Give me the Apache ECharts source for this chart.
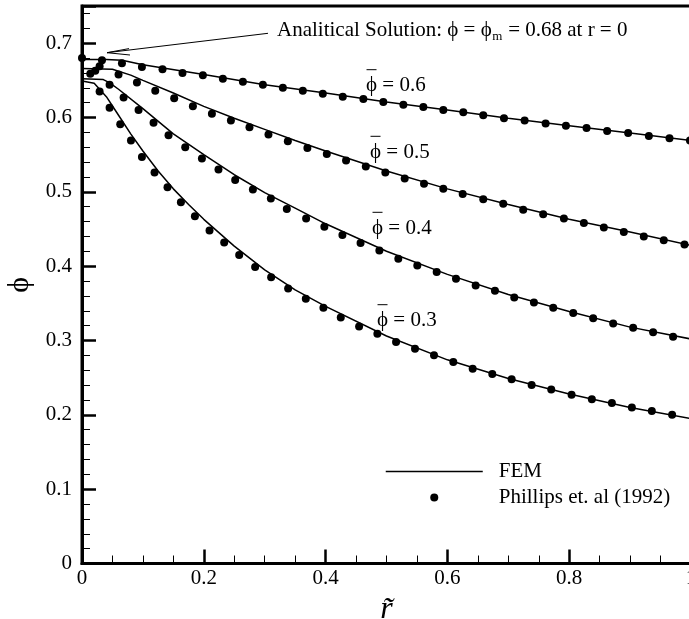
<!DOCTYPE html>
<html><head><meta charset="utf-8">
<script src="https://cdn.jsdelivr.net/npm/echarts@6/dist/echarts.min.js"></script>
<style>html,body{margin:0;padding:0;background:#fff}#c{width:689px;height:619px}</style>
</head><body><div id="c"></div>
<script>
const FONT = '"Liberation Serif", "DejaVu Serif", serif';

// ---- data ----
const xTicks = [0, 0.2, 0.4, 0.6, 0.8, 1];
const yTicks = [0, 0.1, 0.2, 0.3, 0.4, 0.5, 0.6, 0.7];

const fem06_r   = [0, 0.04, 0.066, 0.1, 0.2, 0.3, 0.4, 0.5, 0.6, 0.7, 0.8, 0.9, 1.0];
const fem06_phi = [0.678, 0.678, 0.677, 0.671, 0.658, 0.644, 0.633, 0.621, 0.610, 0.599, 0.589, 0.579, 0.569];

const fem05_r   = [0, 0.05, 0.08, 0.1, 0.15, 0.2, 0.25, 0.3, 0.35, 0.4, 0.5, 0.6, 0.7, 0.8, 0.9, 1.0];
const fem05_phi = [0.666, 0.665, 0.657, 0.650, 0.633, 0.615, 0.599, 0.584, 0.569, 0.555, 0.528, 0.504, 0.483, 0.463, 0.446, 0.428];

const fem04_r   = [0, 0.035, 0.045, 0.06, 0.1, 0.15, 0.2, 0.25, 0.3, 0.35, 0.4, 0.5, 0.6, 0.7, 0.8, 0.9, 1.0];
const fem04_phi = [0.652, 0.651, 0.647, 0.638, 0.612, 0.578, 0.550, 0.523, 0.499, 0.478, 0.457, 0.420, 0.389, 0.362, 0.339, 0.318, 0.302];

const fem03_r   = [0, 0.02, 0.04, 0.06, 0.08, 0.1, 0.125, 0.15, 0.175, 0.2, 0.25, 0.3, 0.35, 0.4, 0.5, 0.6, 0.7, 0.8, 0.9, 1.0];
const fem03_phi = [0.649, 0.646, 0.628, 0.603, 0.578, 0.555, 0.528, 0.504, 0.483, 0.463, 0.427, 0.395, 0.368, 0.346, 0.306, 0.274, 0.249, 0.228, 0.210, 0.195];

const exp06_r   = [0.0136, 0.0218, 0.0289, 0.0328, 0.0656, 0.0984, 0.1322, 0.1650, 0.1985, 0.2313, 0.2642, 0.2970, 0.3298, 0.3626, 0.3954, 0.4282, 0.4620, 0.4948, 0.5277, 0.5605, 0.5933, 0.6261, 0.6589, 0.6929, 0.7268, 0.7613, 0.7946, 0.8285, 0.8623, 0.8968, 0.9308, 0.9647, 0.9983];
const exp06_phi = [0.659, 0.663, 0.669, 0.677, 0.673, 0.668, 0.665, 0.660, 0.657, 0.652, 0.648, 0.644, 0.640, 0.636, 0.632, 0.628, 0.625, 0.621, 0.617, 0.614, 0.610, 0.607, 0.603, 0.599, 0.596, 0.592, 0.589, 0.586, 0.582, 0.579, 0.575, 0.572, 0.569];

const exp05_r   = [0.0600, 0.0902, 0.1203, 0.1514, 0.1821, 0.2133, 0.2445, 0.2750, 0.3062, 0.3380, 0.3701, 0.4020, 0.4336, 0.4660, 0.4981, 0.5299, 0.5616, 0.5933, 0.6251, 0.6589, 0.6917, 0.7245, 0.7573, 0.7913, 0.8241, 0.8569, 0.8897, 0.9225, 0.9553, 0.9893];
const exp05_phi = [0.658, 0.647, 0.636, 0.626, 0.615, 0.605, 0.596, 0.587, 0.577, 0.568, 0.559, 0.551, 0.542, 0.534, 0.526, 0.518, 0.511, 0.504, 0.497, 0.490, 0.484, 0.476, 0.470, 0.464, 0.458, 0.452, 0.446, 0.440, 0.435, 0.429];

const exp04_r   = [0.0453, 0.0683, 0.0929, 0.1175, 0.1421, 0.1695, 0.1969, 0.2241, 0.2515, 0.2806, 0.3101, 0.3363, 0.3680, 0.3980, 0.4276, 0.4574, 0.4883, 0.5194, 0.5506, 0.5824, 0.6141, 0.6464, 0.6781, 0.7098, 0.7421, 0.7738, 0.8066, 0.8394, 0.8722, 0.9050, 0.9378, 0.9706];
const exp04_phi = [0.644, 0.627, 0.610, 0.593, 0.576, 0.560, 0.545, 0.530, 0.516, 0.503, 0.491, 0.477, 0.464, 0.453, 0.442, 0.431, 0.421, 0.410, 0.401, 0.392, 0.383, 0.374, 0.367, 0.358, 0.351, 0.344, 0.337, 0.330, 0.323, 0.317, 0.311, 0.305];

const exp03_r   = [0.0289, 0.0453, 0.0628, 0.0804, 0.0984, 0.1191, 0.1404, 0.1624, 0.1854, 0.2094, 0.2335, 0.2581, 0.2843, 0.3106, 0.3385, 0.3675, 0.3964, 0.4249, 0.4550, 0.4850, 0.5157, 0.5468, 0.5780, 0.6097, 0.6415, 0.6737, 0.7055, 0.7383, 0.7705, 0.8039, 0.8372, 0.8701, 0.9029, 0.9357, 0.9690];
const exp03_phi = [0.635, 0.613, 0.591, 0.569, 0.547, 0.526, 0.506, 0.486, 0.467, 0.448, 0.432, 0.415, 0.399, 0.385, 0.370, 0.356, 0.344, 0.331, 0.319, 0.309, 0.298, 0.289, 0.280, 0.271, 0.262, 0.255, 0.248, 0.240, 0.234, 0.227, 0.221, 0.216, 0.210, 0.205, 0.200];

const analytic_r = [0];
const analytic_phi = [0.68];

const curveLabels = ['0.6', '0.5', '0.4', '0.3'];
const legendNames = ['FEM', 'Phillips et. al (1992)'];

// ---- chart ----
function pairs(xs, ys) { return xs.map((x, i) => [x, ys[i]]); }
const chart = echarts.init(document.getElementById('c'), null, { renderer: 'canvas' });

function femSeries(xs, ys) {
  return { type: 'line', name: legendNames[0], data: pairs(xs, ys), symbol: 'none', showSymbol: false, smooth: false,
    lineStyle: { color: '#000', width: 1.5 }, itemStyle: { color: '#000' }, z: 2, animation: false };
}
function dotSeries(xs, ys, name) {
  return { type: 'scatter', name: name, data: pairs(xs, ys), symbol: 'circle', symbolSize: 8,
    itemStyle: { color: '#000', opacity: 1 }, z: 3, animation: false };
}

const GRID = { left: 82, top: 6, width: 609, height: 557.5 };

chart.setOption({
  animation: false,
  backgroundColor: '#fff',
  grid: Object.assign({ show: true, borderColor: '#000', borderWidth: 3, backgroundColor: 'transparent',
    containLabel: false, outerBoundsMode: 'none' }, GRID),
  legend: {
    data: [
      { name: legendNames[0], itemStyle: { color: 'rgba(0,0,0,0)', borderWidth: 0, opacity: 0 } },
      { name: legendNames[1] }
    ],
    orient: 'vertical', left: 385, top: 461, padding: 0, itemWidth: 97, itemHeight: 8, itemGap: 5,
    selectedMode: false,
    lineStyle: { color: '#000', width: 1.5 },
    textStyle: { fontFamily: FONT, fontSize: 21, color: '#000', padding: [0, 0, 0, 11] }
  },
  xAxis: {
    type: 'value', min: 0, max: 1, interval: 0.2,
    axisLine: { show: true, onZero: false, lineStyle: { color: '#000', width: 3 } },
    axisTick: { show: true, inside: true, length: 14, lineStyle: { color: '#000', width: 2.5 } },
    minorTick: { show: true, splitNumber: 4, length: 8, lineStyle: { color: '#000', width: 1 } },
    splitLine: { show: false },
    axisLabel: { color: '#000', fontFamily: FONT, fontSize: 21, margin: 4,
      formatter: v => (xTicks.indexOf(Math.round(v * 10) / 10) >= 0 ? String(Math.round(v * 10) / 10) : '') },
    name: 'r\u0303', nameLocation: 'middle', nameGap: 22,
    nameTextStyle: { fontFamily: FONT, fontStyle: 'italic', fontSize: 32, color: '#000' }
  },
  yAxis: {
    type: 'value', min: 0, max: 0.75, interval: 0.1,
    axisLine: { show: true, onZero: false, lineStyle: { color: '#000', width: 3 } },
    axisTick: { show: true, inside: true, length: 14, lineStyle: { color: '#000', width: 2.5 } },
    minorTick: { show: true, splitNumber: 5, length: 8, lineStyle: { color: '#000', width: 1 } },
    splitLine: { show: false },
    axisLabel: { color: '#000', fontFamily: FONT, fontSize: 21, margin: 10, showMaxLabel: false,
      formatter: v => { const r = Math.round(v * 10) / 10; return yTicks.indexOf(r) >= 0 && Math.abs(v - r) < 1e-6 ? String(r) : ''; } },
    name: '\u03D5', nameLocation: 'middle', nameGap: 31, nameRotate: 90,
    nameTextStyle: { fontFamily: FONT, fontSize: 30, color: '#000' }
  },
  series: [
    femSeries(fem06_r, fem06_phi),
    femSeries(fem05_r, fem05_phi),
    femSeries(fem04_r, fem04_phi),
    femSeries(fem03_r, fem03_phi),
    dotSeries(exp06_r, exp06_phi, legendNames[1]),
    dotSeries(exp05_r, exp05_phi, legendNames[1]),
    dotSeries(exp04_r, exp04_phi, legendNames[1]),
    dotSeries(exp03_r, exp03_phi, legendNames[1]),
    dotSeries(analytic_r, analytic_phi, 'Analytical')
  ]
});

// ---- annotations ----
const mctx = document.createElement('canvas').getContext('2d');
function tw(text, size) { mctx.font = size + 'px ' + FONT; return mctx.measureText(text).width; }
const TS = 21;
const txt = (x, y, text, size, extra) => ({ type: 'text', left: x, top: y - size / 2, silent: true,
  style: Object.assign({ text: text, font: size + 'px ' + FONT, fill: '#000', textVerticalAlign: 'top' }, extra || {}) });

const g = [];
const a1 = 'Analitical Solution: \u03D5 = \u03D5';
const a3 = ' = 0.68 at r = 0';
const ax = 277, ay = 30;
const w1 = tw(a1, TS);
g.push(txt(ax, ay, a1, TS));
g.push(txt(ax + w1 + 0.5, ay + 7, 'm', 13));
g.push(txt(ax + w1 + tw('m', 13) + 1, ay, a3, TS));
g.push({ type: 'polyline', silent: true, shape: { points: [[268, 33.3], [107, 52.7]] }, style: { stroke: '#000', lineWidth: 1, fill: null } });
g.push({ type: 'polyline', silent: true, shape: { points: [[129, 48.6], [107, 52.7], [130, 55.0]] }, style: { stroke: '#000', lineWidth: 1, fill: null } });

const labelPos = [[366, 85.7], [370, 152.3], [372, 228.3], [377, 320.7]];
curveLabels.forEach((v, i) => {
  const [x, y] = labelPos[i];
  const pw = tw('\u03D5', TS);
  g.push(txt(x, y, '\u03D5 = ' + v, TS));
  g.push({ type: 'line', silent: true, shape: { x1: x + pw / 2 - 5, y1: y - 16, x2: x + pw / 2 + 5, y2: y - 16 }, style: { stroke: '#000', lineWidth: 1 } });
});
chart.setOption({ graphic: g });
</script>
</body></html>
